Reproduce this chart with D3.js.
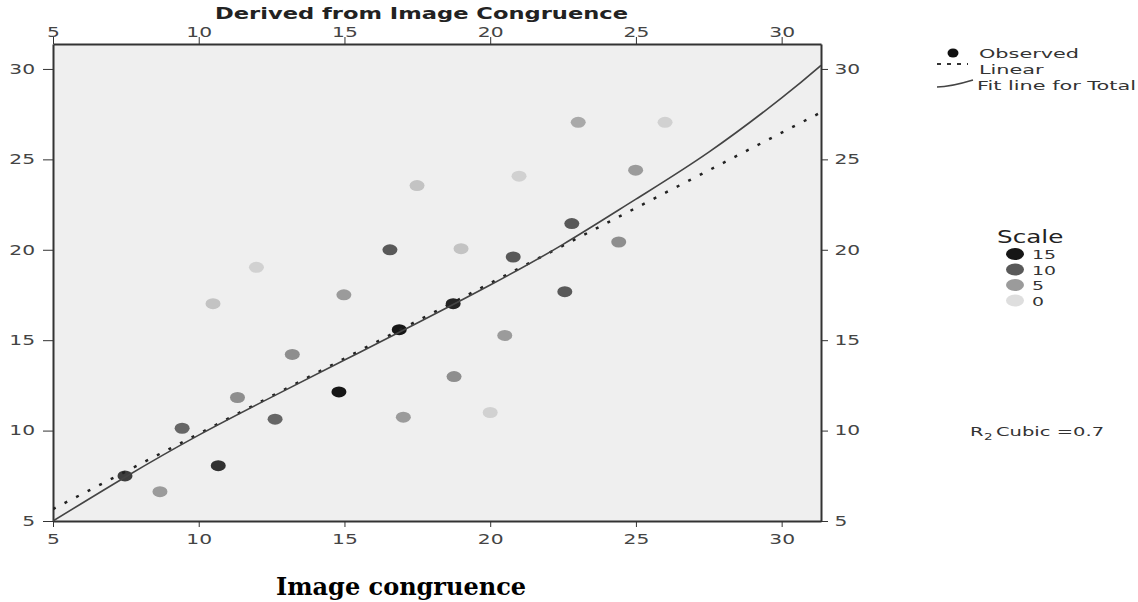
<!DOCTYPE html>
<html>
<head>
<meta charset="utf-8">
<script src="https://cdn.jsdelivr.net/npm/d3@7"></script>
<style>
  body { margin: 0; background: #fff; }
  svg { display: block; }
  .tick text { font-family: "DejaVu Sans", sans-serif; font-size: 13.5px; fill: #444; }
  .tick line, .domain { stroke: #333; }
</style>
</head>
<body>
<div id="chart"></div>
<script>
// observed points: image congruence (x), derived value (y), scale value (shade)
const obsX = [7.47, 8.67, 9.43, 10.67, 10.49, 11.98, 11.33, 12.62, 13.21, 14.81, 14.98, 16.56, 16.88, 17.02,
              23.02, 26.0, 17.49, 20.99, 24.99, 19.0, 20.79, 22.8, 24.41, 18.73, 22.56, 20.5, 18.76, 20.0]
const obsY = [7.49, 6.62, 10.13, 8.06, 17.02, 19.03, 11.83, 10.63, 14.21, 12.14, 17.51, 20.0, 15.58, 10.74,
              27.05, 27.05, 23.55, 24.07, 24.4, 20.06, 19.6, 21.45, 20.43, 17.02, 17.68, 15.26, 12.99, 11.0]
const obsScale = [12, 5, 9, 13, 2, 1, 6, 9, 6, 15, 5, 10, 15, 5,
                  4, 1, 2, 1, 5, 2, 10, 10, 6, 14, 10, 5, 6, 1]

// linear fit (end points) and cubic fit line
const linX = [5, 31.35]
const linY = [5.66, 27.6]
const fitX = [5, 7.5, 10, 12.5, 15, 17.5, 20, 22.5, 25, 27.5, 30, 31.35]
const fitY = [5.0, 7.45, 9.75, 11.85, 13.9, 15.95, 18.05, 20.3, 22.8, 25.4, 28.4, 30.2]

const ticks = [5, 10, 15, 20, 25, 30]
const scaleKeys = [15, 10, 5, 0]

const width = 1138
const height = 602
const plot = {left: 53, right: 821, top: 44, bottom: 521}

const svg = d3.select("#chart").append("svg")
    .attr("width", width)
    .attr("height", height)

const x = d3.scaleLinear().domain([5, 31.35]).range([plot.left, plot.right])
const y = d3.scaleLinear().domain([5, 31.38]).range([plot.bottom, plot.top])
const shade = d3.scaleLinear().domain([0, 15]).range(["#dedede", "#161616"])

// the source picture is stretched sideways, so stretch text to match
function stretch(sel, k) {
    sel.each(function() {
        const len = this.getComputedTextLength()
        d3.select(this).attr("textLength", len * k).attr("lengthAdjust", "spacingAndGlyphs")
    })
}

svg.append("rect")
    .attr("x", plot.left)
    .attr("y", plot.top)
    .attr("width", plot.right - plot.left)
    .attr("height", plot.bottom - plot.top)
    .style("fill", "#efefef")

// axes on all four sides
svg.append("g")
    .attr("transform", "translate(0," + plot.bottom + ")")
    .call(d3.axisBottom(x).tickValues(ticks).tickSize(6).tickPadding(7).tickSizeOuter(0))
svg.append("g")
    .attr("transform", "translate(0," + plot.top + ")")
    .call(d3.axisTop(x).tickValues(ticks).tickSize(7).tickPadding(0).tickSizeOuter(0))
svg.append("g")
    .attr("transform", "translate(" + plot.left + ",0)")
    .call(d3.axisLeft(y).tickValues(ticks).tickSize(10).tickPadding(2).tickSizeOuter(0))
svg.append("g")
    .attr("transform", "translate(" + plot.right + ",0)")
    .call(d3.axisRight(y).tickValues(ticks).tickSize(7).tickPadding(2).tickSizeOuter(0))
svg.selectAll(".domain").style("stroke-width", 2)
svg.selectAll(".tick text").attr("transform", "scale(1.5,1)")

svg.append("clipPath").attr("id", "clip")
    .append("rect")
    .attr("x", plot.left).attr("y", plot.top)
    .attr("width", plot.right - plot.left).attr("height", plot.bottom - plot.top)

// points
svg.append("g")
    .selectAll("ellipse")
    .data(obsX.map((d, i) => ({x: d, y: obsY[i], s: obsScale[i]})))
    .enter()
    .append("ellipse")
    .attr("cx", d => x(d.x))
    .attr("cy", d => y(d.y))
    .attr("rx", 7.5)
    .attr("ry", 5.5)
    .style("fill", d => shade(d.s))

// fit lines
const line = d3.line().x(d => x(d[0])).y(d => y(d[1]))
svg.append("path")
    .datum(linX.map((d, i) => [d, linY[i]]))
    .attr("d", line)
    .attr("clip-path", "url(#clip)")
    .style("fill", "none")
    .style("stroke", "#222")
    .style("stroke-width", 2.5)
    .style("stroke-dasharray", "3,10")
svg.append("path")
    .datum(fitX.map((d, i) => [d, fitY[i]]))
    .attr("d", line.curve(d3.curveNatural))
    .attr("clip-path", "url(#clip)")
    .style("fill", "none")
    .style("stroke", "#444")
    .style("stroke-width", 1.6)

// titles
const title = svg.append("text")
    .attr("x", 215).attr("y", 19)
    .style("font-family", "DejaVu Sans, sans-serif")
    .style("font-weight", "bold")
    .style("font-size", "15px")
    .style("fill", "#222")
    .text("Derived from Image Congruence")
title.attr("textLength", 413).attr("lengthAdjust", "spacingAndGlyphs")

svg.append("text")
    .attr("x", 401).attr("y", 595)
    .attr("text-anchor", "middle")
    .style("font-family", "DejaVu Serif, serif")
    .style("font-weight", "bold")
    .style("font-size", "24px")
    .style("fill", "#000")
    .text("Image congruence")

// top legend
const legend = svg.append("g").style("font-family", "DejaVu Sans, sans-serif")
    .style("font-size", "13px").style("fill", "#333")
legend.append("ellipse").attr("cx", 953).attr("cy", 53).attr("rx", 5.5).attr("ry", 4.5).style("fill", "#111")
legend.append("line").attr("x1", 937).attr("x2", 968).attr("y1", 64).attr("y2", 64)
    .style("stroke", "#333").style("stroke-width", 2).style("stroke-dasharray", "4,6")
legend.append("path").attr("d", "M937,87 Q950,87 973,80")
    .style("fill", "none").style("stroke", "#444").style("stroke-width", 1.5)
legend.append("text").attr("x", 979).attr("y", 58).text("Observed")
legend.append("text").attr("x", 979).attr("y", 74).text("Linear")
legend.append("text").attr("x", 977).attr("y", 90).text("Fit line for Total")
stretch(legend.selectAll("text"), 1.6)

// scale legend
const scaleLeg = svg.append("g").style("font-family", "DejaVu Sans, sans-serif").style("fill", "#333")
scaleLeg.append("text").attr("x", 997).attr("y", 243)
    .style("font-size", "17px").style("fill", "#222").text("Scale")
scaleLeg.selectAll("ellipse")
    .data(scaleKeys)
    .enter()
    .append("ellipse")
    .attr("cx", 1015)
    .attr("cy", (d, i) => 254 + i * 15.5)
    .attr("rx", 9)
    .attr("ry", 6)
    .style("fill", d => shade(d))
scaleLeg.selectAll("text.k")
    .data(scaleKeys)
    .enter()
    .append("text")
    .attr("class", "k")
    .attr("x", 1032)
    .attr("y", (d, i) => 259 + i * 15.5)
    .style("font-size", "13px")
    .text(d => d)
stretch(scaleLeg.selectAll("text"), 1.45)

// R squared note
const r2 = svg.append("g").style("font-family", "DejaVu Sans, sans-serif").style("font-size", "13px").style("fill", "#333")
r2.append("text").attr("x", 970).attr("y", 436).text("R")
r2.append("text").attr("x", 984).attr("y", 440).style("font-size", "9px").text("2")
r2.append("text").attr("x", 996).attr("y", 436).text("Cubic =0.7")
stretch(r2.selectAll("text"), 1.5)
</script>
</body>
</html>
